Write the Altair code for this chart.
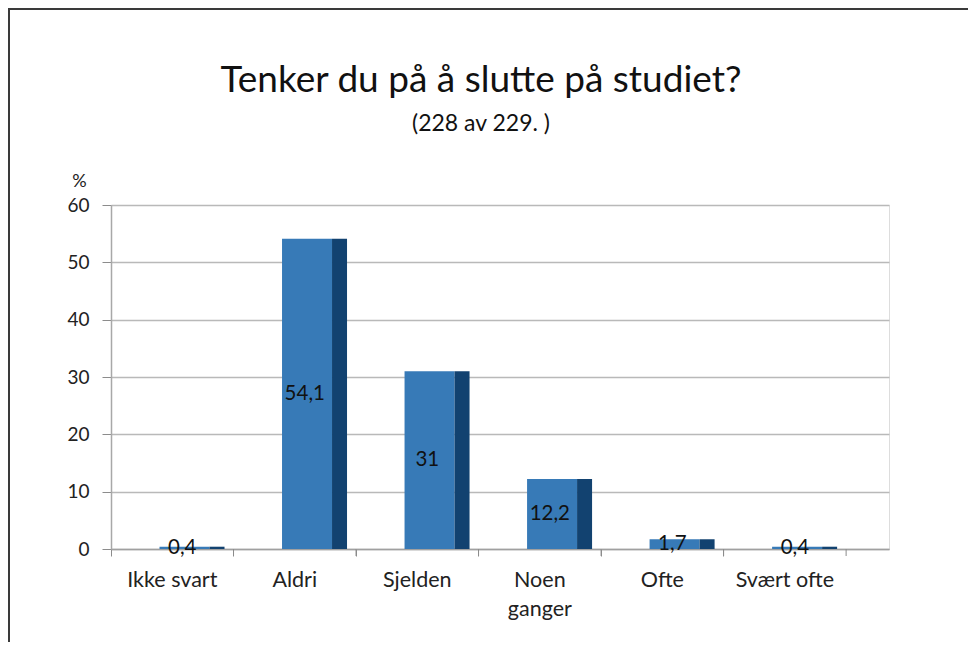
import altair as alt
import pandas as pd

# ---- data ----
categories = ["Ikke svart", "Aldri", "Sjelden", "Noen ganger", "Ofte", "Svært ofte"]
percent = [0.4, 54.1, 31, 12.2, 1.7, 0.4]
y_ticks = [0, 10, 20, 30, 40, 50, 60]
title_text = "Tenker du på å slutte på studiet?"
subtitle_text = "(228 av 229. )"

FRONT = "#377ab7"
SIDE = "#124270"
GRID = "#b9b9b9"
FONT = "Lato"

W, H = 778, 344

df = pd.DataFrame({"cat": categories, "v": percent})

x_scale = alt.Scale(domain=categories, paddingInner=0, paddingOuter=0.175, align=0)
y_scale = alt.Scale(domain=[0, 60], nice=False)

base = alt.Chart(df)

x_enc = alt.X(
    "cat:N",
    scale=x_scale,
    sort=categories,
    axis=alt.Axis(
        title=None,
        bandPosition=0,
        labelAngle=0,
        labelFont=FONT,
        labelFontSize=21.5,
        labelColor="#222222",
        labelPadding=13,
        labelLineHeight=29,
        labelExpr="datum.label == 'Noen ganger' ? ['Noen', 'ganger'] : datum.label",
        tickSize=7,
        tickColor="#8c8c8c",
        domainColor="#a0a0a0",
        domainWidth=1.5,
        grid=False,
    ),
)

y_enc = alt.Y(
    "v:Q",
    scale=y_scale,
    axis=alt.Axis(
        values=y_ticks,
        title="%",
        titleAngle=0,
        titleX=-32,
        titleY=-19,
        titleAlign="center",
        titleBaseline="alphabetic",
        titleFont=FONT,
        titleFontSize=18,
        titleFontWeight="normal",
        titleColor="#222222",
        labelFont=FONT,
        labelFontSize=19,
        labelColor="#222222",
        labelPadding=13,
        tickSize=9,
        tickColor="#8c8c8c",
        domainColor="#a8a8a8",
        domainWidth=1.5,
        grid=True,
        gridColor=GRID,
        gridWidth=1.5,
    ),
)

front = base.mark_bar(width=50, xOffset=12.25, color=FRONT).encode(x=x_enc, y=y_enc)
side = base.mark_bar(width=15, xOffset=44.75, color=SIDE).encode(
    x=alt.X("cat:N", scale=x_scale, sort=categories), y=alt.Y("v:Q", scale=y_scale)
)

end_ticks = base.mark_rule(color="#8c8c8c", strokeWidth=1).encode(
    x=alt.X("cat:N", scale=x_scale, sort=categories, bandPosition=1),
    y=alt.value(H),
    y2=alt.value(H + 7),
)

labels = (
    base.transform_calculate(
        mid="datum.v / 2",
        lab="replace(toString(datum.v), '.', ',')",
    )
    .mark_text(font=FONT, fontSize=20.5, color="#111111", dx=10, baseline="middle", align="center")
    .encode(
        x=alt.X("cat:N", scale=x_scale, sort=categories),
        y=alt.Y("mid:Q", scale=y_scale),
        text="lab:N",
    )
)

title_df = pd.DataFrame({"t": [title_text]})
sub_df = pd.DataFrame({"t": [subtitle_text]})

title = alt.Chart(title_df).mark_text(
    font=FONT, fontSize=37, color="#111111", align="center", baseline="alphabetic"
).encode(text="t:N", x=alt.value(370), y=alt.value(-113))

subtitle = alt.Chart(sub_df).mark_text(
    font=FONT, fontSize=23, color="#111111", align="center", baseline="alphabetic"
).encode(text="t:N", x=alt.value(370), y=alt.value(-74))

frame_left = alt.Chart(title_df).mark_rule(color="#3a3a3a", strokeWidth=2).encode(
    x=alt.value(-102), y=alt.value(-196), y2=alt.value(437)
)
frame_top = alt.Chart(title_df).mark_rule(color="#3a3a3a", strokeWidth=2).encode(
    x=alt.value(-103), x2=alt.value(857), y=alt.value(-196)
)

chart = (
    alt.layer(front, side, end_ticks, labels, title, subtitle, frame_left, frame_top)
    .properties(
        width=W,
        height=H,
        autosize=alt.AutoSizeParams(type="none"),
        padding={"left": 103, "top": 197, "right": 79, "bottom": 93},
    )
    .configure_view(stroke=None)
    .configure(background="white")
)

chart.save("out.html", embed_options={"renderer": "svg", "actions": False})
